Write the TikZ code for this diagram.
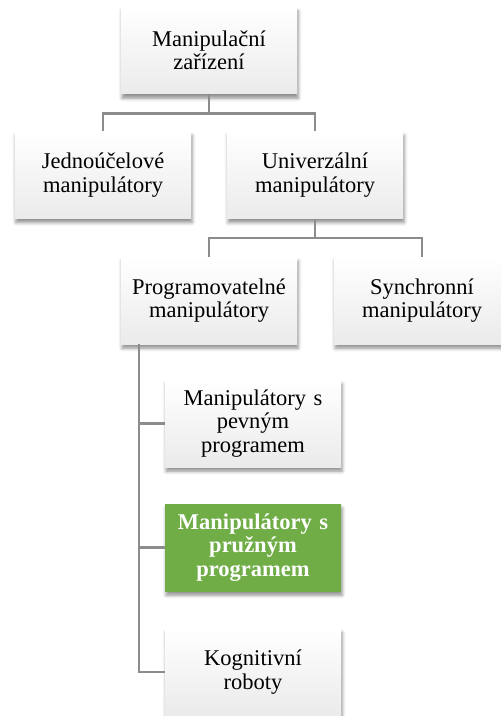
\documentclass[tikz,border=0pt]{standalone}
\usepackage{fontspec}
\setmainfont{Liberation Serif}
\newfontfamily\tnr{Liberation Serif}
\usetikzlibrary{shadows.blur}
\definecolor{officegreen}{HTML}{70AD47}
\definecolor{linegray}{HTML}{8C8C8C}
\tikzset{
  box/.style={minimum width=176bp, minimum height=87bp, text width=170bp,
    align=center, inner sep=0pt, top color=white, bottom color=black!8,
    blur shadow={shadow xshift=1bp, shadow yshift=-4bp, shadow blur radius=3.5bp, shadow opacity=45},
    font=\tnr\fontsize{22.5bp}{23.3bp}\selectfont},
  greenbox/.style={box, top color=officegreen, bottom color=officegreen, text=white,
    font=\tnr\fontsize{22.5bp}{23.3bp}\selectfont\bfseries},
  conn/.style={draw=linegray, line width=2.4bp}
}
\begin{document}
\begin{tikzpicture}[x=1bp, y=-1bp]
\useasboundingbox (0,0) rectangle (501,716);
\clip (0,0) rectangle (501,716);
\node[box] (T) at (209,50.5) {Manipulační\\zařízení};
\node[box] (J) at (103,175) {Jednoúčelové\\manipulátory};
\node[box] (U) at (315,175) {Univerzální\\manipulátory};
\node[box] (P) at (209,300.5) {Programovatelné\\manipulátory};
\node[box] (S) at (422,300.5) {Synchronní\\manipulátory};
\node[box] (C1) at (253,423.5) {Manipulátory s\\pevným\\programem};
\node[greenbox] (C2) at (253,547.5) {Manipulátory s\\pružným\\programem};
\node[box] (C3) at (253,672) {Kognitivní\\roboty};
\draw[conn] (T.south) -- ++(0,19.5) -| (J.north);
\draw[conn] (T.south) -- ++(0,19.5) -| (U.north);
\draw[conn] (U.south) -- ++(0,19) -| (P.north);
\draw[conn] (U.south) -- ++(0,19) -| (S.north);
\draw[conn] ([xshift=18bp]P.south west) |- (C1.west);
\draw[conn] ([xshift=18bp]P.south west) |- (C2.west);
\draw[conn] ([xshift=18bp]P.south west) |- (C3.west);
\end{tikzpicture}
\end{document}
